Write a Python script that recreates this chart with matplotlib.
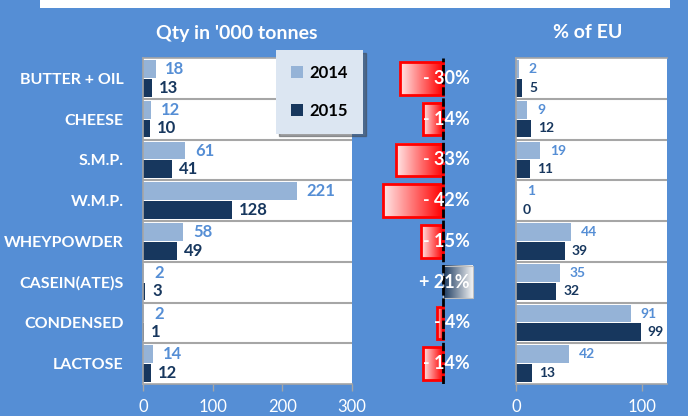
import matplotlib
matplotlib.use("Agg")
import matplotlib.pyplot as plt
import numpy as np
from matplotlib.colors import LinearSegmentedColormap
from matplotlib.patches import Patch, Rectangle

plt.rcParams["font.family"] = ["Lato", "DejaVu Sans"]

categories = ["BUTTER + OIL", "CHEESE", "S.M.P.", "W.M.P.", "WHEYPOWDER",
              "CASEIN(ATE)S", "CONDENSED", "LACTOSE"]
qty_2014 = [18, 12, 61, 221, 58, 2, 2, 14]
qty_2015 = [13, 10, 41, 128, 49, 3, 1, 12]
change_pct = [-30, -14, -33, -42, -15, 21, -4, -14]
eu_2014 = [2, 9, 19, 1, 44, 35, 91, 42]
eu_2015 = [5, 12, 11, 0, 39, 32, 99, 13]

BG = "#558ed5"
C14 = "#95b3d7"
C15 = "#17375e"
GRID = "#a6a6a6"
W, H = 688, 416


def fx(px):
    return px / W


def fy(py):
    return 1 - py / H


def panel(ax, v14, v15, xmax, ticks, fs):
    y = np.arange(len(categories))
    ax.set_facecolor("white")
    ax.barh(y - 0.23, v14, 0.44, color=C14, zorder=2)
    ax.barh(y + 0.23, v15, 0.44, color=C15, zorder=2)
    for yi, a, b in zip(y, v14, v15):
        ax.annotate(str(a), (a, yi - 0.23), xytext=(7, 0), textcoords="offset points",
                    va="center", ha="left", color=BG, fontsize=fs, fontweight="bold")
        ax.annotate(str(b), (b, yi + 0.23), xytext=(5, 0), textcoords="offset points",
                    va="center", ha="left", color=C15, fontsize=fs, fontweight="bold")
    for k in range(len(categories) - 1):
        ax.axhline(k + 0.5, color=GRID, lw=1.5, zorder=3)
    ax.set_xlim(0, xmax)
    ax.set_ylim(len(categories) - 0.5, -0.5)
    ax.set_xticks(ticks)
    ax.tick_params(axis="x", colors=GRID, length=5, width=1, pad=6, labelsize=12,
                   labelcolor="white")
    for s in ["left", "bottom", "top"]:
        ax.spines[s].set_color(GRID)
        ax.spines[s].set_linewidth(1.2)
    ax.spines["right"].set_visible(False)


fig = plt.figure(figsize=(W / 100, H / 100), dpi=100)
fig.patch.set_facecolor(BG)
fig.patches.append(Rectangle((fx(40), fy(8)), fx(630), 8 / H, transform=fig.transFigure,
                             facecolor="white", edgecolor="none"))

y0, y1 = 58, 384
ax1 = fig.add_axes([fx(143), fy(y1), fx(209), (y1 - y0) / H])
panel(ax1, qty_2014, qty_2015, 300, [0, 100, 200, 300], 12)
ax1.set_yticks(np.arange(len(categories)))
ax1.set_yticklabels(categories)
ax1.tick_params(axis="y", length=0, pad=14, labelsize=11.5, labelcolor="white")
for t in ax1.get_yticklabels():
    t.set_fontweight("bold")

ax3 = fig.add_axes([fx(516), fy(y1), fx(151), (y1 - y0) / H])
panel(ax3, eu_2014, eu_2015, 120, [0, 100], 10)
ax3.set_yticks([])

# middle: change 2015 vs 2014
ax2 = fig.add_axes([fx(370), fy(y1), fx(140), (y1 - y0) / H])
ax2.axis("off")
red = LinearSegmentedColormap.from_list("r", ["#ffe8e8", "#ff0000"])
navy = LinearSegmentedColormap.from_list("n", [C15, "#f4f4f4"])
grad = np.linspace(0, 1, 256).reshape(1, -1)
for yi, v in enumerate(change_pct):
    lo, hi = min(v, 0), max(v, 0)
    cm = red if v < 0 else navy
    ax2.imshow(grad, cmap=cm, aspect="auto", extent=(lo, hi, yi + 0.4, yi - 0.4),
               zorder=2, interpolation="bilinear")
    ec = "#ff0000" if v < 0 else "#bfbfbf"
    ax2.add_patch(Rectangle((lo, yi - 0.4), hi - lo, 0.8, fill=False, ec=ec,
                            lw=2 if v < 0 else 0.8, zorder=3))
    lab = f"- {abs(v)}%" if v < 0 else f"+ {v}%"
    ax2.text(19, yi, lab, ha="right", va="center", color="white", fontsize=13,
             fontweight="bold", zorder=5)
ax2.axvline(0, color="black", lw=2, ls=(0, (3, 1)), zorder=4)
ax2.set_xlim(-51, 47)
ax2.set_ylim(len(categories) - 0.5, -0.5)

fig.text(fx(237), fy(33), "Qty in '000 tonnes", ha="center", va="center",
         color="white", fontsize=14, fontweight="bold")
fig.text(fx(588), fy(33), "% of EU", ha="center", va="center",
         color="white", fontsize=14, fontweight="bold")

handles = [Patch(facecolor=C14, label="2014"), Patch(facecolor=C15, label="2015")]
leg = fig.legend(handles=handles, loc="upper left", bbox_to_anchor=(fx(276), fy(50)),
                 frameon=True, facecolor="#dce6f2", edgecolor="none", shadow=True,
                 fancybox=False, framealpha=1, labelspacing=1.3, handlelength=0.7,
                 handleheight=0.7, handletextpad=0.4, borderpad=0.9, borderaxespad=0,
                 prop={"weight": "bold", "size": 12})

fig.savefig("out.png", dpi=100, facecolor=BG)
